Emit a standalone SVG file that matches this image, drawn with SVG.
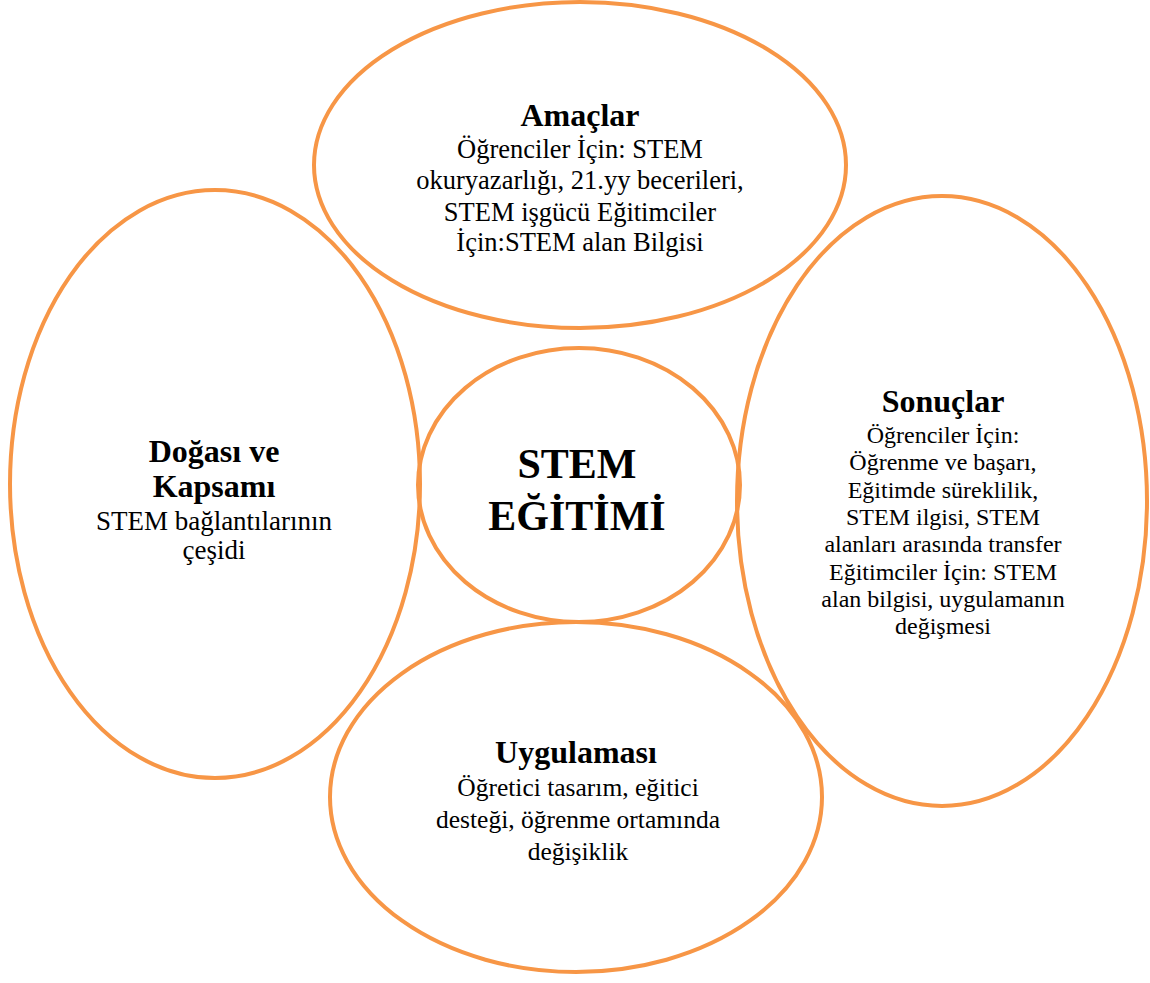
<svg xmlns="http://www.w3.org/2000/svg" width="1150" height="983" viewBox="0 0 1150 983">
<style>
.e{fill:none;stroke:#F79646;stroke-width:4}
text{font-family:"Liberation Serif","Times New Roman",serif;fill:#000;text-anchor:middle}
.t{font-weight:bold;font-size:32px}
.b{font-size:26.5px}
.d{font-size:27px}
.u{font-size:25.5px}
.s{font-size:24px}
.c{font-weight:bold;font-size:42px}
</style>
<rect width="1150" height="983" fill="#fff"/>
<g id="connectors"></g>
<g id="amaclar">
<ellipse class="e" cx="580" cy="165" rx="266" ry="163"/>
<text class="t" x="580" y="126">Amaçlar</text>
<text class="b" x="580" y="158">Öğrenciler İçin: STEM</text>
<text class="b" x="580" y="189">okuryazarlığı, 21.yy becerileri,</text>
<text class="b" x="580" y="221">STEM işgücü Eğitimciler</text>
<text class="b" x="580" y="251">İçin:STEM alan Bilgisi</text>
</g>
<g id="dogasi">
<ellipse class="e" cx="215" cy="484" rx="205" ry="294"/>
<text class="t" x="214" y="462">Doğası ve</text>
<text class="t" x="214" y="497">Kapsamı</text>
<text class="d" x="214" y="530">STEM bağlantılarının</text>
<text class="d" x="214" y="559">çeşidi</text>
</g>
<g id="sonuclar">
<ellipse class="e" cx="942" cy="501" rx="205" ry="305"/>
<text class="t" x="943" y="412">Sonuçlar</text>
<text class="s" x="943" y="443">Öğrenciler İçin:</text>
<text class="s" x="943" y="470">Öğrenme ve başarı,</text>
<text class="s" x="943" y="498">Eğitimde süreklilik,</text>
<text class="s" x="943" y="525">STEM ilgisi, STEM</text>
<text class="s" x="943" y="552">alanları arasında transfer</text>
<text class="s" x="943" y="580">Eğitimciler İçin: STEM</text>
<text class="s" x="943" y="607">alan bilgisi, uygulamanın</text>
<text class="s" x="943" y="634">değişmesi</text>
</g>
<g id="uygulamasi">
<ellipse class="e" cx="576" cy="797" rx="246" ry="175"/>
<text class="t" x="576" y="763">Uygulaması</text>
<text class="u" x="578" y="796">Öğretici tasarım, eğitici</text>
<text class="u" x="578" y="828">desteği, öğrenme ortamında</text>
<text class="u" x="578" y="860">değişiklik</text>
</g>
<g id="stem">
<ellipse class="e" cx="579" cy="485" rx="161" ry="137"/>
<text class="c" x="577" y="478">STEM</text>
<text class="c" x="577" y="530">EĞİTİMİ</text>
</g>
</svg>
